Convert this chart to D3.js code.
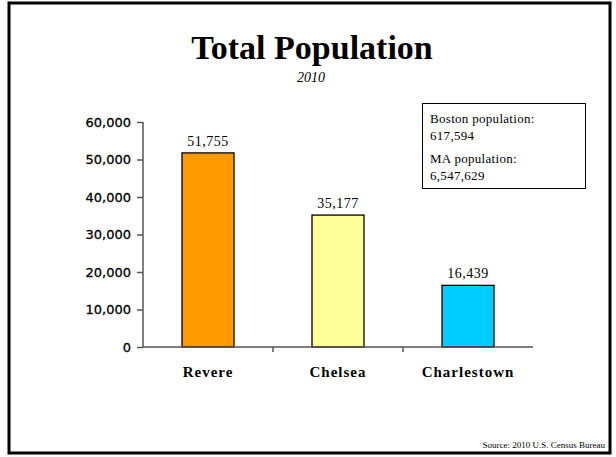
<!DOCTYPE html>
<html>
<head>
<meta charset="utf-8">
<script src="https://cdn.jsdelivr.net/npm/d3@7"></script>
<style>
  body { margin: 0; background: #fff; }
  svg { display: block; }
</style>
</head>
<body>
<script>
// chart data
var towns = ["Revere", "Chelsea", "Charlestown"];
var population = [51755, 35177, 16439];
var barColors = ["#ff9900", "#ffff99", "#00ccff"];
var yTicks = [0, 10000, 20000, 30000, 40000, 50000, 60000];
var noteLines = ["Boston population:", "617,594", "MA population:", "6,547,629"];

var W = 616, H = 457;
var margin = {top: 122, left: 143};
var width = 390, height = 225;

var svg = d3.select("body").append("svg")
    .attr("width", W)
    .attr("height", H);

svg.append("rect").attr("width", W).attr("height", H).attr("fill", "#fff");

// outer frame
svg.append("rect")
    .attr("x", 9).attr("y", 3)
    .attr("width", 601).attr("height", 450)
    .attr("fill", "none")
    .attr("stroke", "#000")
    .attr("stroke-width", 3);

// title
svg.append("text")
    .attr("x", 312).attr("y", 59)
    .attr("text-anchor", "middle")
    .style("font-family", "'Liberation Serif', 'Times New Roman', serif")
    .style("font-weight", "bold")
    .style("font-size", "34px")
    .text("Total Population");

svg.append("text")
    .attr("x", 311).attr("y", 82)
    .attr("text-anchor", "middle")
    .style("font-family", "'Liberation Serif', serif")
    .style("font-style", "italic")
    .style("font-size", "14px")
    .text("2010");

var g = svg.append("g")
    .attr("transform", "translate(" + margin.left + "," + margin.top + ")");

var x = d3.scaleBand().domain(towns).range([0, width]).paddingInner(0.6).paddingOuter(0.3);
var y = d3.scaleLinear().domain([0, 60000]).range([height, 0]);

// bars
g.selectAll(".bar")
    .data(population)
  .enter().append("rect")
    .attr("class", "bar")
    .attr("x", function(d, i) { return x(towns[i]); })
    .attr("y", function(d) { return y(d); })
    .attr("width", x.bandwidth())
    .attr("height", function(d) { return height - y(d); })
    .attr("fill", function(d, i) { return barColors[i]; })
    .attr("stroke", "#000")
    .attr("stroke-width", 1.3);

// value labels
g.selectAll(".val")
    .data(population)
  .enter().append("text")
    .attr("class", "val")
    .attr("x", function(d, i) { return x(towns[i]) + x.bandwidth() / 2; })
    .attr("y", function(d) { return y(d) - 7; })
    .attr("text-anchor", "middle")
    .style("font-family", "'Liberation Serif', serif")
    .style("font-size", "14px")
    .style("letter-spacing", "0.5px")
    .text(d3.format(","));

// y axis
var yAxis = g.append("g")
    .call(d3.axisLeft(y).tickValues(yTicks).tickFormat(d3.format(",")).tickSize(6).tickPadding(6));
yAxis.select(".domain").attr("d", "M0," + y(60000) + "V" + height).attr("stroke", "#555").attr("stroke-width", 1.5);
yAxis.selectAll(".tick line").attr("stroke", "#555").attr("stroke-width", 1.5);
yAxis.selectAll(".tick text")
    .style("font-family", "'DejaVu Sans', Verdana, sans-serif")
    .style("font-size", "13px")
    .style("stroke", "#000")
    .style("stroke-width", 0.3)
    .attr("fill", "#000");

// x axis with ticks between categories
var xg = g.append("g").attr("transform", "translate(0," + height + ")");
xg.append("line")
    .attr("x1", 0).attr("x2", width)
    .attr("stroke", "#555").attr("stroke-width", 1.5);
xg.selectAll(".sep")
    .data(towns.slice(1))
  .enter().append("line")
    .attr("x1", function(d) { return x(d) - x.bandwidth() * 0.75; })
    .attr("x2", function(d) { return x(d) - x.bandwidth() * 0.75; })
    .attr("y1", 0).attr("y2", 5)
    .attr("stroke", "#555").attr("stroke-width", 1.5);
xg.selectAll(".lbl")
    .data(towns)
  .enter().append("text")
    .attr("x", function(d) { return x(d) + x.bandwidth() / 2; })
    .attr("y", 30)
    .attr("text-anchor", "middle")
    .style("font-family", "'Liberation Serif', serif")
    .style("font-weight", "bold")
    .style("font-size", "15px")
    .style("letter-spacing", "1px")
    .text(function(d) { return d; });

// note box
svg.append("rect")
    .attr("x", 422.5).attr("y", 103.5)
    .attr("width", 163).attr("height", 85)
    .attr("fill", "#fff")
    .attr("stroke", "#000")
    .attr("stroke-width", 1);

var noteY = [123, 140, 163, 180];
svg.selectAll(".note")
    .data(noteLines)
  .enter().append("text")
    .attr("x", 430)
    .attr("y", function(d, i) { return noteY[i]; })
    .style("font-family", "'Liberation Serif', serif")
    .style("font-size", "13px")
    .style("letter-spacing", "0.3px")
    .text(function(d) { return d; });

// source
svg.append("text")
    .attr("x", 605).attr("y", 448)
    .attr("text-anchor", "end")
    .style("font-family", "'Liberation Serif', serif")
    .style("font-size", "9px")
    .text("Source: 2010 U.S. Census Bureau");
</script>
</body>
</html>
